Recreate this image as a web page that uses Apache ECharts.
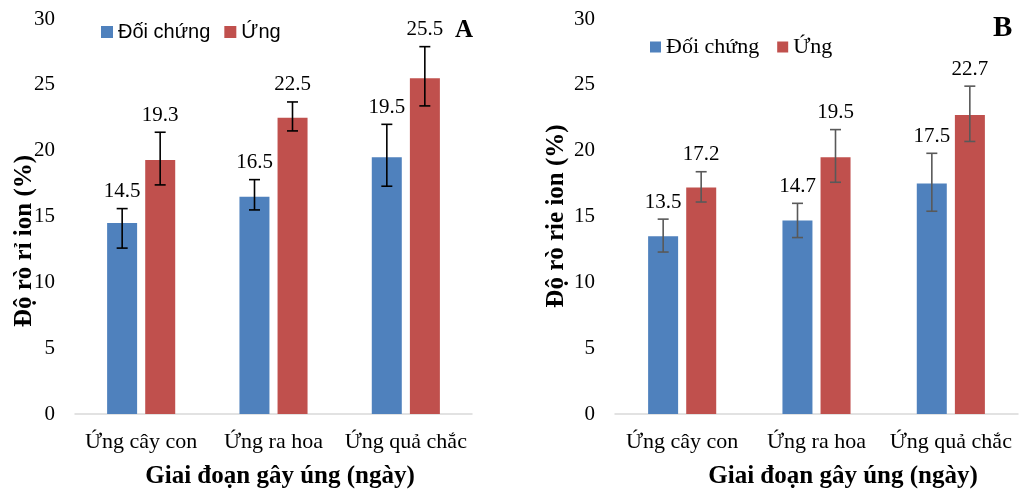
<!DOCTYPE html>
<html>
<head>
<meta charset="utf-8">
<script src="https://cdn.jsdelivr.net/npm/echarts@6/dist/echarts.min.js"></script>
<style>html,body{margin:0;padding:0;background:#fff}#c{width:1020px;height:500px}</style>
</head>
<body>
<div id="c"></div>
<script>
const categories = ['Ứng cây con', 'Ứng ra hoa', 'Ứng quả chắc'];
const seriesNames = ['Đối chứng', 'Ứng'];
// Panel A
const aControl = [14.5, 16.5, 19.5];
const aFlood = [19.3, 22.5, 25.5];
const aControlLow = [12.6, 15.5, 17.3];
const aControlHigh = [15.6, 17.8, 22.0];
const aFloodLow = [17.4, 21.5, 23.4];
const aFloodHigh = [21.4, 23.7, 27.9];
// Panel B
const bControl = [13.5, 14.7, 17.5];
const bFlood = [17.2, 19.5, 22.7];
const bControlLow = [12.3, 13.4, 15.4];
const bControlHigh = [14.8, 16.0, 19.8];
const bFloodLow = [16.1, 17.6, 20.7];
const bFloodHigh = [18.4, 21.6, 24.9];
const yTicks = [0, 5, 10, 15, 20, 25, 30];

const SERIF = 'Liberation Serif';
const BLUE = '#4F81BD', RED = '#C0504D';

function errData(vals, lows, highs) {
  return vals.map((v, i) => [i, lows[i], highs[i], v]);
}
function errSeries(axis, vals, lows, highs, offset, color) {
  return {
    type: 'custom', xAxisIndex: axis, yAxisIndex: axis, z: 5,
    data: errData(vals, lows, highs),
    encode: { x: 0, y: [1, 2] },
    renderItem: function (params, api) {
      const c = api.value(0);
      const pHi = api.coord([c, api.value(2)]);
      const pLo = api.coord([c, api.value(1)]);
      const x = pHi[0] + offset;
      const cap = 5.5;
      const st = { stroke: color, lineWidth: 1.6 };
      return {
        type: 'group',
        children: [
          { type: 'line', shape: { x1: x, y1: pHi[1], x2: x, y2: pLo[1] }, style: st },
          { type: 'line', shape: { x1: x - cap, y1: pHi[1], x2: x + cap, y2: pHi[1] }, style: st },
          { type: 'line', shape: { x1: x - cap, y1: pLo[1], x2: x + cap, y2: pLo[1] }, style: st },
          { type: 'text', x: x, y: pHi[1] - 17,
            style: { text: api.value(3).toFixed(1), fill: '#000', fontFamily: SERIF, fontSize: 21,
                     align: 'center', verticalAlign: 'middle' } }
        ]
      };
    }
  };
}

const chart = echarts.init(document.getElementById('c'), null, { renderer: 'canvas' });
const yAxisBase = {
  type: 'value', min: 0, max: 30, interval: 5,
  axisLine: { show: false }, axisTick: { show: false }, splitLine: { show: false },
  axisLabel: { fontFamily: SERIF, fontSize: 21, color: '#000', margin: 20,
               formatter: v => yTicks.includes(v) ? String(v) : '' }
};
const xAxisBase = {
  type: 'category', data: categories,
  axisLine: { lineStyle: { color: '#D9D9D9', width: 1.5 } },
  axisTick: { show: false },
  axisLabel: { fontFamily: SERIF, fontSize: 22, color: '#000', margin: 17, interval: 0 }
};
chart.setOption({
  animation: false,
  backgroundColor: '#fff',
  grid: [
    { left: 75, right: 548, top: 19, bottom: 86 },
    { left: 615, right: 2, top: 19, bottom: 86 }
  ],
  xAxis: [Object.assign({ gridIndex: 0 }, xAxisBase), Object.assign({ gridIndex: 1 }, xAxisBase)],
  yAxis: [Object.assign({ gridIndex: 0 }, yAxisBase), Object.assign({ gridIndex: 1 }, yAxisBase)],
  legend: [
    { left: 96, top: 17, icon: 'rect', itemWidth: 12, itemHeight: 12, itemGap: 14,
      data: seriesNames, selectedMode: false,
      textStyle: { fontFamily: 'Liberation Sans', fontSize: 20, color: '#000' } },
    { left: 645, top: 31, icon: 'rect', itemWidth: 11, itemHeight: 11, itemGap: 18,
      data: seriesNames, selectedMode: false,
      textStyle: { fontFamily: SERIF, fontSize: 22, color: '#000' } }
  ],
  graphic: [
    { type: 'text', left: 455, top: 18, style: { text: 'A', fontFamily: SERIF, fontWeight: 'bold', fontSize: 25, fill: '#000' } },
    { type: 'text', left: 993, top: 14, style: { text: 'B', fontFamily: SERIF, fontWeight: 'bold', fontSize: 29, fill: '#000' } },
    { type: 'text', x: 25, y: 241, rotation: Math.PI / 2,
      style: { text: 'Độ rò rỉ ion (%)', fontFamily: SERIF, fontWeight: 'bold', fontSize: 25, fill: '#000', align: 'center', verticalAlign: 'middle' } },
    { type: 'text', x: 557, y: 216, rotation: Math.PI / 2,
      style: { text: 'Độ rò rie ion (%)', fontFamily: SERIF, fontWeight: 'bold', fontSize: 25, fill: '#000', align: 'center', verticalAlign: 'middle' } },
    { type: 'text', x: 280, y: 477,
      style: { text: 'Giai đoạn gây úng (ngày)', fontFamily: SERIF, fontWeight: 'bold', fontSize: 25, fill: '#000', align: 'center', verticalAlign: 'middle' } },
    { type: 'text', x: 843, y: 477,
      style: { text: 'Giai đoạn gây úng (ngày)', fontFamily: SERIF, fontWeight: 'bold', fontSize: 25, fill: '#000', align: 'center', verticalAlign: 'middle' } }
  ],
  series: [
    { name: seriesNames[0], type: 'bar', xAxisIndex: 0, yAxisIndex: 0, data: aControl, barWidth: 30, barGap: '27%', itemStyle: { color: BLUE } },
    { name: seriesNames[1], type: 'bar', xAxisIndex: 0, yAxisIndex: 0, data: aFlood, barWidth: 30, barGap: '27%', itemStyle: { color: RED } },
    { name: seriesNames[0], type: 'bar', xAxisIndex: 1, yAxisIndex: 1, data: bControl, barWidth: 30, barGap: '27%', itemStyle: { color: BLUE } },
    { name: seriesNames[1], type: 'bar', xAxisIndex: 1, yAxisIndex: 1, data: bFlood, barWidth: 30, barGap: '27%', itemStyle: { color: RED } },
    errSeries(0, aControl, aControlLow, aControlHigh, -19, '#000'),
    errSeries(0, aFlood, aFloodLow, aFloodHigh, 19, '#000'),
    errSeries(1, bControl, bControlLow, bControlHigh, -19, '#595959'),
    errSeries(1, bFlood, bFloodLow, bFloodHigh, 19, '#595959')
  ]
});
</script>
</body>
</html>
